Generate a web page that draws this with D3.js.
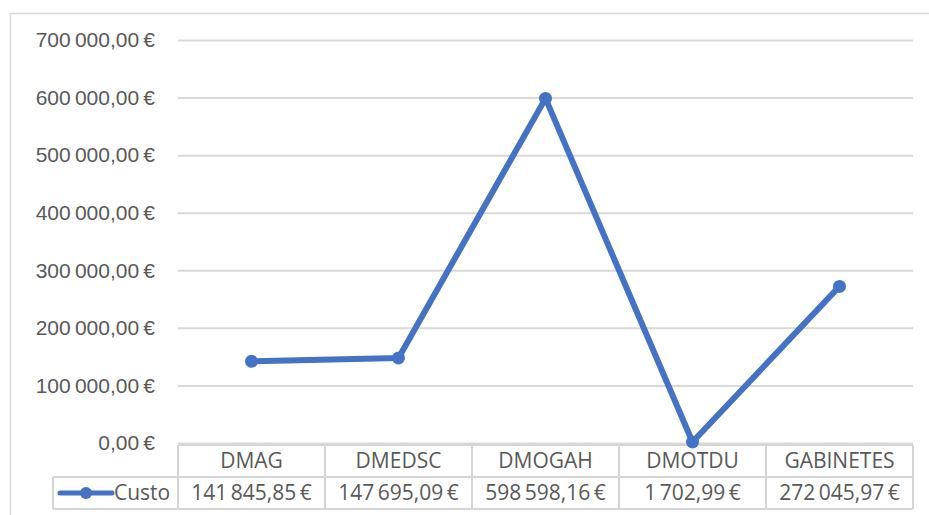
<!DOCTYPE html>
<html>
<head>
<meta charset="utf-8">
<script src="https://cdn.jsdelivr.net/npm/d3@7"></script>
<style>
  body { margin: 0; background: #fff; }
  svg { display: block; font-family: "Open Sans", "Noto Sans", sans-serif; }
</style>
</head>
<body>
<div id="chartDiv"></div>
<script>
// dados
const categories = ["DMAG", "DMEDSC", "DMOGAH", "DMOTDU", "GABINETES"];
const custo = [141845.85, 147695.09, 598598.16, 1702.99, 272045.97];
const yTicks = [0, 100000, 200000, 300000, 400000, 500000, 600000, 700000];
const seriesName = "Custo";

const width = 929, height = 515;
const margin = {top: 40, right: 16, bottom: 72, left: 178};
const fontSize = "21px";

const svg = d3.select("#chartDiv").append("svg")
    .attr("width", width)
    .attr("height", height);

// moldura do grafico
svg.append("rect")
    .attr("x", 10.5).attr("y", 13.5)
    .attr("width", width).attr("height", height)
    .attr("fill", "none")
    .attr("stroke", "#d9d9d9")
    .attr("stroke-width", 1.5);

const locale = d3.formatLocale({decimal: ",", thousands: "\u2009", grouping: [3], currency: ["", " €"]});
const fmt = v => locale.format(",.2f")(v) + "\u2009€";

const x = d3.scaleBand()
    .domain(categories)
    .range([margin.left, width - margin.right]);

const y = d3.scaleLinear()
    .domain([0, 700000])
    .range([height - margin.bottom, margin.top]);

// eixo y + grelha
const yAxis = d3.axisLeft(y)
    .tickValues(yTicks)
    .tickSize(-(width - margin.left - margin.right))
    .tickPadding(23)
    .tickFormat(fmt);

const gy = svg.append("g")
    .attr("transform", `translate(${margin.left},0)`)
    .call(yAxis);
gy.select(".domain").remove();
gy.selectAll(".tick line").attr("stroke", "#d9d9d9").attr("stroke-width", 2);
gy.selectAll(".tick text")
    .attr("fill", "#595959")
    .style("font-size", fontSize);

// tabela de dados
const rowH = 32;
const tableTop = y(0) + 2;
const tbl = svg.append("g");
const lineColor = "#d4d4d4";
const legendLeft = 53;

// linhas horizontais
tbl.append("line")
    .attr("x1", margin.left).attr("x2", width - margin.right)
    .attr("y1", tableTop).attr("y2", tableTop);
tbl.append("line")
    .attr("x1", legendLeft).attr("x2", width - margin.right)
    .attr("y1", tableTop + rowH).attr("y2", tableTop + rowH);
tbl.append("line")
    .attr("x1", legendLeft).attr("x2", width - margin.right)
    .attr("y1", tableTop + 2 * rowH).attr("y2", tableTop + 2 * rowH);
// linhas verticais
categories.forEach(c => {
    tbl.append("line")
        .attr("x1", x(c)).attr("x2", x(c))
        .attr("y1", tableTop).attr("y2", tableTop + 2 * rowH);
});
tbl.append("line")
    .attr("x1", width - margin.right).attr("x2", width - margin.right)
    .attr("y1", tableTop).attr("y2", tableTop + 2 * rowH);
tbl.append("line")
    .attr("x1", legendLeft).attr("x2", legendLeft)
    .attr("y1", tableTop + rowH).attr("y2", tableTop + 2 * rowH);
tbl.selectAll("line").attr("stroke", lineColor).attr("stroke-width", 2);

// categorias
tbl.selectAll("text.cat")
    .data(categories)
    .enter().append("text")
    .attr("class", "cat")
    .attr("x", d => x(d) + x.bandwidth() / 2)
    .attr("y", tableTop + rowH / 2)
    .attr("dy", "0.35em")
    .attr("text-anchor", "middle")
    .attr("fill", "#595959")
    .style("font-size", fontSize)
    .text(d => d);

// valores
tbl.selectAll("text.val")
    .data(custo)
    .enter().append("text")
    .attr("class", "val")
    .attr("x", (d, i) => x(categories[i]) + x.bandwidth() / 2)
    .attr("y", tableTop + rowH * 1.5)
    .attr("dy", "0.35em")
    .attr("text-anchor", "middle")
    .attr("fill", "#595959")
    .style("font-size", fontSize)
    .text(d => fmt(d));

// legenda na tabela
const blue = "#4472c4";
const ly = tableTop + rowH * 1.5;
tbl.append("line")
    .attr("x1", 60).attr("x2", 112)
    .attr("y1", ly).attr("y2", ly)
    .attr("stroke", blue).attr("stroke-width", 5)
    .attr("stroke-linecap", "round");
tbl.append("circle")
    .attr("cx", 86).attr("cy", ly).attr("r", 6)
    .attr("fill", blue);
tbl.append("text")
    .attr("x", 114).attr("y", ly)
    .attr("dy", "0.35em")
    .attr("fill", "#595959")
    .style("font-size", fontSize)
    .text(seriesName);

// linha
const line = d3.line()
    .x((d, i) => x(categories[i]) + x.bandwidth() / 2)
    .y(d => y(d));

svg.append("path")
    .datum(custo)
    .attr("fill", "none")
    .attr("stroke", blue)
    .attr("stroke-width", 6)
    .attr("stroke-linejoin", "round")
    .attr("d", line);

svg.selectAll("circle.pt")
    .data(custo)
    .enter().append("circle")
    .attr("class", "pt")
    .attr("cx", (d, i) => x(categories[i]) + x.bandwidth() / 2)
    .attr("cy", d => y(d))
    .attr("r", 6.5)
    .attr("fill", blue);
</script>
</body>
</html>
